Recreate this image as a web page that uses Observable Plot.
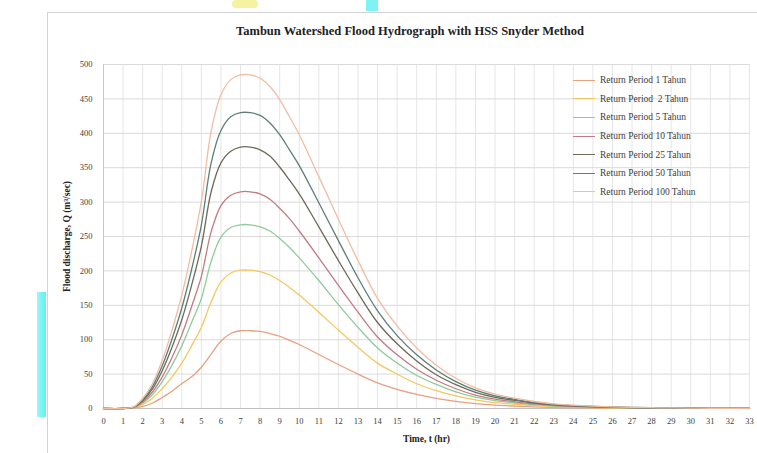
<!DOCTYPE html>
<html><head><meta charset="utf-8">
<script src="https://cdn.jsdelivr.net/npm/d3@7"></script>
<script src="https://cdn.jsdelivr.net/npm/@observablehq/plot@0.6"></script>
<style>
body{margin:0;background:#fff;}
#wrap{position:relative;width:757px;height:453px;overflow:hidden;background:#fff;font-family:"Liberation Serif","Times New Roman",serif;}
#box{position:absolute;left:47px;top:12px;width:730px;height:470px;border:1px solid #d3d3d3;background:#fff;}
#cyan1{position:absolute;left:37px;top:292px;width:9px;height:125px;background:linear-gradient(90deg,#9af7f7,#5ff0f0);}
#cyan2{position:absolute;left:366px;top:0;width:12px;height:11px;background:#7ff3f3;}
#yel1{position:absolute;left:232px;top:0;width:26px;height:8px;background:#f3f3a0;border-radius:4px;}
#title{position:absolute;left:47px;width:726px;top:24px;text-align:center;font-weight:bold;font-size:12.5px;color:#222;}
#chart{position:absolute;left:0;top:0;}
#legend{position:absolute;left:573px;top:71px;font-size:9.5px;color:#404040;}
.item{height:18.6px;display:flex;align-items:center;white-space:pre;}
.sw{width:22px;height:0;border-top:1.5px solid;margin-right:5px;}
svg [aria-label="y-axis label"] text, svg [aria-label="x-axis label"] text{font-weight:bold;fill:#222;font-size:9.5px;}
</style>
</head><body>
<div id="wrap">
  <div id="cyan1"></div><div id="cyan2"></div><div id="yel1"></div>
  <div id="box"></div>
  <div id="chart"></div>
  <div id="title">Tambun Watershed Flood Hydrograph with HSS Snyder Method</div>
  <div id="legend"></div>
</div>
<script>
// time (hr)
const times = [0,1,1.5,2,2.5,3,3.5,4,4.5,5,5.5,6,6.5,7,7.5,8,8.5,9,9.5,10,11,12,13,14,15,16,17,18,19,20,21,22,23,24,25,26,27,28,29,30,31,32,33];
const seriesNames = ["Return Period 1 Tahun","Return Period  2 Tahun","Return Period 5 Tahun","Return Period 10 Tahun","Return Period 25 Tahun","Return Period 50 Tahun","Return Period 100 Tahun"];
const seriesColors = ["#e8a07e","#f4c860","#8fcb9c","#c07c84","#6e6a58","#5c7f78","#f2bca2"];
const q1   = [0,0,0.5,3,8,16,25,36,46,60,79,98,109,113,113,112,109,105,99,93,78.5,64,50,37.3,27.9,20.5,14.7,10.3,7,4.9,3.5,2.4,1.6,1.1,0.8,0.6,0.4,0.3,0.2,0.14,0.09,0.06,0.03];
const q2   = [0,0,0.8,6,15,29,46,66,91,118,155,184,197,201,201,199,194,186,176,165,140,114,89,66,50,36,26,18.3,12.5,8.6,6.2,4.2,2.8,2,1.4,1,0.7,0.5,0.34,0.24,0.16,0.1,0.06];
const q5   = [0,0,1.1,8,20,39,63,91,125,160,214,249,263,267,267,264,258,247,234,219,186,151,118,88,66,48,35,24.3,16.6,11.5,8.3,5.6,3.7,2.7,1.9,1.3,0.9,0.7,0.45,0.32,0.21,0.13,0.08];
const q10  = [0,0,1.3,9.5,24,46,74,107,148,192,257,295,310,315,315,312,304,291,276,258,219,179,140,104,78,57,41,28.7,19.5,13.5,9.8,6.6,4.4,3.2,2.2,1.6,1.1,0.8,0.54,0.38,0.25,0.16,0.09];
const q25  = [0,0,1.5,11.4,28.5,55,89,129,179,236,315,357,374,380,380,376,367,351,332,312,264,215,168,125,94,69,49,34.6,23.6,16.3,11.8,8,5.3,3.8,2.7,1.9,1.3,0.95,0.65,0.46,0.3,0.19,0.11];
const q50  = [0,0,1.7,12.9,32,62,101,146,202,267,357,404,424,430,430,426,415,398,376,353,299,244,190,142,106,78,56,39,26.7,18.5,13.3,9,6,4.3,3,2.2,1.5,1.1,0.73,0.52,0.34,0.22,0.13];
const q100 = [0,0,1.9,14.6,36,70,114,165,228,301,403,456,478,485,485,480,468,449,424,398,337,275,215,160,120,88,63,44,30,21,15,10.2,6.8,4.9,3.4,2.4,1.7,1.2,0.82,0.58,0.39,0.24,0.15];
const xTicks = d3.range(0, 34, 1);
const yTicks = d3.range(0, 501, 50);

const allSeries = [q1,q2,q5,q10,q25,q50,q100];
const rows = [];
allSeries.forEach((arr, i) => arr.forEach((v, j) => rows.push({t: times[j], q: v, series: seriesNames[i]})));

const chart = Plot.plot({
  width: 757, height: 453,
  marginLeft: 103, marginRight: 8, marginTop: 64, marginBottom: 45,
  style: {background: "transparent", fontFamily: "Liberation Serif, Times New Roman, serif", fontSize: "8.5px", color: "#404040"},
  x: {domain: [0, 33]},
  y: {domain: [0, 500]},
  color: {domain: seriesNames, range: seriesColors},
  marks: [
    Plot.gridX(xTicks, {stroke: "#e6e6e6", strokeOpacity: 1}),
    Plot.gridY(yTicks, {stroke: "#dadada", strokeOpacity: 1}),
    Plot.ruleY([0], {stroke: "#bfbfbf"}),
    Plot.ruleX([0], {stroke: "#c8c8c8"}),
    Plot.axisX(xTicks, {tickSize: 0, tickPadding: 9, label: "Time, t (hr)", labelAnchor: "center", labelArrow: "none", labelOffset: 33}),
    Plot.axisY(yTicks, {tickSize: 0, tickPadding: 11, label: "Flood discharge, Q (m³/sec)", labelAnchor: "center", labelArrow: "none", labelOffset: 40}),
    Plot.line(rows, {x: "t", y: "q", z: "series", stroke: "series", curve: "catmull-rom", strokeWidth: 1.3})
  ]
});
document.getElementById("chart").appendChild(chart);

const lg = document.getElementById("legend");
seriesNames.forEach((n, i) => {
  const d = document.createElement("div");
  d.className = "item";
  d.innerHTML = `<span class="sw" style="border-color:${seriesColors[i]}"></span><span>${n}</span>`;
  lg.appendChild(d);
});
</script>
</body></html>
